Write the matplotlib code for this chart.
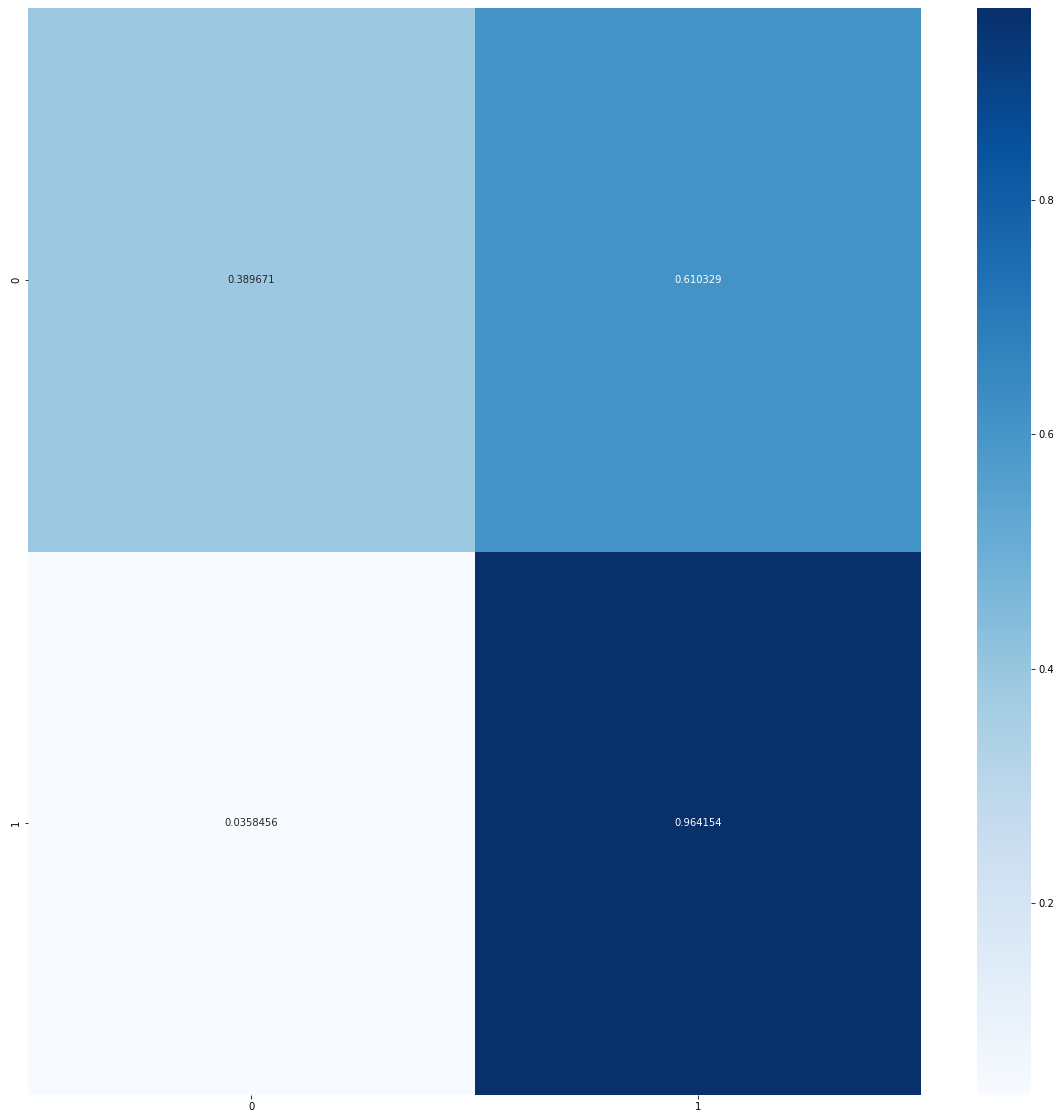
import matplotlib
matplotlib.use("Agg")
import matplotlib.pyplot as plt
import seaborn as sns
import numpy as np

# confusion matrix values (row-normalised)
row_labels = ["0", "1"]
col_labels = ["0", "1"]
values = np.array([[0.389671, 0.610329],
                   [0.0358456, 0.964154]])

W, H, DPI = 1053, 1115, 72
fig = plt.figure(figsize=(W / DPI, H / DPI), dpi=DPI)

# axes placed in pixel terms
ax = fig.add_axes([28 / W, 1 - 1095 / H, (921 - 28) / W, (1095 - 8) / H])
cax = fig.add_axes([977 / W, 1 - 1095 / H, (1031 - 977) / W, (1095 - 8) / H])

sns.heatmap(values, annot=True, fmt="g", cmap="Blues", ax=ax, cbar_ax=cax,
            xticklabels=col_labels, yticklabels=row_labels)

fig.savefig("out.png", dpi=DPI)
